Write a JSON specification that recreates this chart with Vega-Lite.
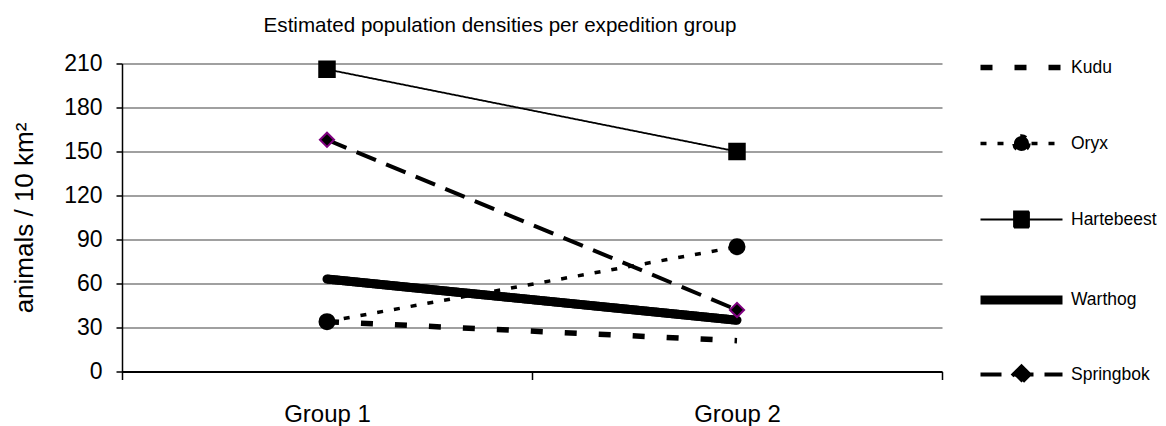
{
  "$schema": "https://vega.github.io/schema/vega-lite/v6.json",
  "width": 820,
  "height": 308,
  "autosize": {"type": "none"},
  "padding": {"left": 122, "top": 63.5, "right": 224, "bottom": 54.5},
  "background": "white",
  "config": {
    "view": {"stroke": null},
    "font": "Liberation Sans",
    "axis": {"labelFont": "Liberation Sans", "titleFont": "Liberation Sans", "labelColor": "black", "titleColor": "black"},
    "legend": {"labelFont": "Liberation Sans", "labelColor": "black"}
  },
  "title": {
    "text": "Estimated population densities per expedition group",
    "font": "Liberation Sans",
    "fontSize": 20.6,
    "fontWeight": "normal",
    "color": "black",
    "frame": "group",
    "anchor": "middle",
    "dx": -32,
    "offset": 16
  },
  "data": {
    "values": [
      {"species": "Kudu", "group": "Group 1", "value": 34},
      {"species": "Kudu", "group": "Group 2", "value": 21},
      {"species": "Oryx", "group": "Group 1", "value": 34},
      {"species": "Oryx", "group": "Group 2", "value": 85},
      {"species": "Hartebeest", "group": "Group 1", "value": 206},
      {"species": "Hartebeest", "group": "Group 2", "value": 150},
      {"species": "Warthog", "group": "Group 1", "value": 63},
      {"species": "Warthog", "group": "Group 2", "value": 35},
      {"species": "Springbok", "group": "Group 1", "value": 158},
      {"species": "Springbok", "group": "Group 2", "value": 42}
    ]
  },
  "encoding": {
    "x": {
      "field": "group",
      "type": "nominal",
      "bandPosition": 0.5,
      "scale": {"type": "band", "paddingInner": 0, "paddingOuter": 0},
      "axis": {
        "title": null,
        "labelAngle": 0,
        "tickBand": "extent",
        "grid": false,
        "domainColor": "black",
        "domainWidth": 2,
        "tickColor": "black",
        "tickWidth": 1.5,
        "tickSize": 8,
        "labelFontSize": 24,
        "labelPadding": 23
      }
    },
    "y": {
      "field": "value",
      "type": "quantitative",
      "scale": {"domain": [0, 210], "nice": false},
      "axis": {
        "title": "animals / 10 km²",
        "titleFontSize": 26,
        "titleFontWeight": "normal",
        "titlePadding": 26,
        "values": [0, 30, 60, 90, 120, 150, 180, 210],
        "grid": true,
        "gridColor": "#808080",
        "gridWidth": 1.3,
        "domainColor": "black",
        "domainWidth": 1.5,
        "tickColor": "black",
        "tickWidth": 1.5,
        "tickSize": 6,
        "labelFontSize": 23,
        "labelPadding": 14
      }
    }
  },
  "layer": [
    {
      "mark": {"type": "line", "color": "black", "stroke": "black", "fill": "black", "strokeCap": "butt"},
      "encoding": {
        "detail": {"field": "species"},
        "strokeDash": {
          "field": "species",
          "type": "nominal",
          "scale": {
            "domain": ["Kudu", "Oryx", "Hartebeest", "Warthog", "Springbok"],
            "range": [[12, 22], [6, 11], [1, 0], [1, 0], [21, 11]]
          },
          "legend": {
            "title": null,
            "orient": "none",
            "legendX": 885,
            "legendY": -9,
            "padding": 0,
            "gridAlign": "all",
            "symbolSize": 400,
            "symbolType": {"signal": "datum.value === 'Oryx' ? 'M-4.1,0H4.1M0.75,0A0.75,0.75,0,1,1,-0.75,0A0.75,0.75,0,1,1,0.75,0Z' : datum.value === 'Hartebeest' ? 'M-4.1,0H4.1M-0.75,-0.8H0.75V0.8H-0.75Z' : datum.value === 'Springbok' ? 'M-4.1,0H4.1M0,-0.8L0.8,0L0,0.8L-0.8,0Z' : 'M-4.1,0H4.1'"},
            "rowPadding": 40,
            "labelFontSize": 17.5,
            "labelOffset": 35,
            "encode": {
              "symbols": {
                "fill": {"signal": "datum.value === 'Oryx' || datum.value === 'Hartebeest' || datum.value === 'Springbok' ? 'black' : 'transparent'"},
                "fillOpacity": {"value": 1},
                "stroke": {"value": "black"},
                "strokeWidth": {"signal": "datum.value === 'Kudu' ? 5.5 : datum.value === 'Oryx' ? 3.5 : datum.value === 'Hartebeest' ? 1.8 : datum.value === 'Warthog' ? 9 : 4"},
                "opacity": {"value": 1}
              }
            }
          }
        },
        "strokeWidth": {
          "field": "species",
          "type": "nominal",
          "scale": {
            "type": "ordinal",
            "domain": ["Kudu", "Oryx", "Hartebeest", "Warthog", "Springbok"],
            "range": [5.5, 3.5, 1.8, 9, 4]
          },
          "legend": null
        }
      }
    },
    {
      "transform": [{"filter": "datum.species === 'Warthog'"}],
      "mark": {"type": "line", "color": "black", "strokeCap": "round", "strokeWidth": 9}
    },
    {
      "transform": [{"filter": "datum.species === 'Oryx' || datum.species === 'Hartebeest' || datum.species === 'Springbok'"}],
      "mark": {"type": "point", "filled": true, "fill": "black", "strokeWidth": 2, "opacity": 1},
      "encoding": {
        "shape": {
          "field": "species",
          "type": "nominal",
          "scale": {"domain": ["Oryx", "Hartebeest", "Springbok"], "range": ["circle", "square", "diamond"]},
          "legend": null
        },
        "size": {
          "field": "species",
          "type": "nominal",
          "scale": {"type": "ordinal", "domain": ["Oryx", "Hartebeest", "Springbok"], "range": [225, 240, 200]},
          "legend": null
        },
        "stroke": {
          "field": "species",
          "type": "nominal",
          "scale": {"domain": ["Oryx", "Hartebeest", "Springbok"], "range": ["black", "black", "#800080"]},
          "legend": null
        }
      }
    }
  ]
}
